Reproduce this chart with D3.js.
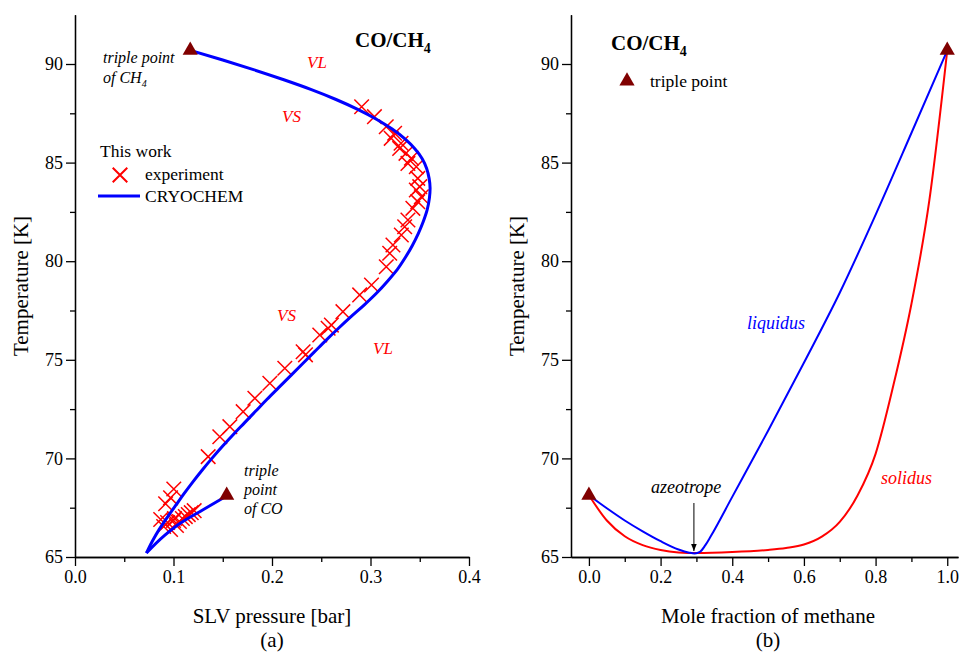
<!DOCTYPE html>
<html>
<head>
<meta charset="utf-8">
<script src="https://cdn.jsdelivr.net/npm/d3@7"></script>
<style>
  body { margin: 0; background: #fff; }
  svg { display: block; }
  text { font-family: "Liberation Serif", "Times New Roman", serif; }
</style>
</head>
<body>
<svg id="chart" width="959" height="652"></svg>
<script>
// ---- data ----
// (a) SLV pressure [bar] vs temperature [K], CRYOCHEM curve: upper branch from CH4 triple point down to the cusp
const cryoUpper = [
  [0.117, 90.69], [0.150, 90.20], [0.182, 89.70], [0.212, 89.20], [0.240, 88.70],
  [0.265, 88.20], [0.287, 87.70], [0.306, 87.20], [0.322, 86.70], [0.335, 86.20],
  [0.345, 85.70], [0.3525, 85.20], [0.357, 84.70], [0.3595, 84.20], [0.3605, 83.70],
  [0.3598, 83.20], [0.3575, 82.60], [0.3535, 82.00], [0.3485, 81.40], [0.3425, 80.80],
  [0.3355, 80.20], [0.3275, 79.60], [0.3175, 79.00], [0.3065, 78.40], [0.2940, 77.80],
  [0.2805, 77.20], [0.2675, 76.60], [0.2550, 76.00], [0.2430, 75.40], [0.2310, 74.80],
  [0.2190, 74.20], [0.2070, 73.60], [0.1950, 73.00], [0.1835, 72.40], [0.1720, 71.80],
  [0.1605, 71.20], [0.1495, 70.60], [0.1390, 70.00], [0.1290, 69.40], [0.1195, 68.80],
  [0.1105, 68.20], [0.1020, 67.60], [0.0935, 67.00], [0.0855, 66.40], [0.0785, 65.80],
  [0.0725, 65.20]
];
// lower branch from the cusp up to the CO triple point
const cryoLower = [
  [0.0725, 65.20], [0.091, 66.10], [0.108, 66.75], [0.130, 67.40], [0.154, 68.10]
];
const experiment = [
  [0.291, 87.83], [0.304, 87.33], [0.316, 86.82], [0.3245, 86.49], [0.321, 86.23],
  [0.331, 85.98], [0.3296, 85.72], [0.336, 85.47], [0.3415, 85.22], [0.338, 84.96],
  [0.3465, 84.79], [0.348, 84.20], [0.350, 83.78], [0.3465, 83.61], [0.3516, 83.27],
  [0.348, 83.02], [0.343, 82.68], [0.338, 82.09], [0.3347, 81.75], [0.3313, 81.33],
  [0.3228, 80.82], [0.3195, 80.40], [0.316, 79.72], [0.301, 78.79], [0.289, 78.29],
  [0.272, 77.44], [0.2603, 76.76], [0.257, 76.60], [0.2485, 76.26], [0.2316, 75.41],
  [0.234, 75.25], [0.213, 74.57], [0.1978, 73.81], [0.1826, 73.05], [0.1707, 72.37],
  [0.1572, 71.61], [0.147, 71.10], [0.1352, 70.09],
  [0.1003, 68.45], [0.097, 68.00], [0.092, 67.70], [0.087, 66.90], [0.090, 66.55],
  [0.094, 66.75], [0.097, 66.40], [0.100, 66.85], [0.103, 66.60], [0.106, 66.80],
  [0.109, 66.95], [0.112, 67.05], [0.115, 67.15], [0.118, 67.25], [0.121, 67.35],
  [0.101, 66.95]
];
const triplePointsA = [[0.117, 90.69], [0.154, 68.13]];

// (b) mole fraction of methane vs temperature [K]
const liquidus = [
  [0.000, 68.13], [0.050, 67.47], [0.100, 66.85], [0.150, 66.30], [0.200, 65.80],
  [0.250, 65.38], [0.280, 65.22], [0.295, 65.18], [0.310, 65.26], [0.325, 65.60],
  [0.340, 66.05], [0.400, 68.05], [0.500, 71.40], [0.600, 74.85], [0.700, 78.40],
  [0.800, 82.35], [0.900, 86.50], [1.000, 90.69]
];
const solidus = [
  [0.000, 68.13], [0.050, 66.85], [0.100, 66.05], [0.150, 65.60], [0.200, 65.35],
  [0.250, 65.23], [0.300, 65.20], [0.400, 65.25], [0.500, 65.36], [0.550, 65.46],
  [0.600, 65.63], [0.650, 66.03], [0.700, 66.78], [0.750, 68.13], [0.800, 70.23],
  [0.850, 73.73], [0.900, 77.83], [0.950, 83.08], [1.000, 90.69]
];
const triplePointsB = [[0.0, 68.13], [1.0, 90.69]];
const azeotrope = [0.293, 65.2];

const tempTicks = [65, 70, 75, 80, 85, 90];
const tempMinor = [67.5, 72.5, 77.5, 82.5, 87.5];
const pressTicks = [0, 0.1, 0.2, 0.3, 0.4];
const pressMinor = [0.05, 0.15, 0.25, 0.35];
const fracTicks = [0, 0.2, 0.4, 0.6, 0.8, 1.0];
const fracMinor = [0.1, 0.3, 0.5, 0.7, 0.9];

// ---- setup ----
const svg = d3.select("#chart");
const darkRed = "#800000";
const serif = '"Liberation Serif", "Times New Roman", serif';

const yT = d3.scaleLinear().domain([65, 92.5]).range([557, 14.7]);
const xP = d3.scaleLinear().domain([0, 0.4]).range([75, 469]);
const xF = d3.scaleLinear().domain([-0.05, 1.03]).range([571, 958]);

function drawAxes(x, y, major, minor, label, sub) {
    const g = svg.append("g");
    const y0 = y.range()[0];
    const x0 = x.range()[0];

    g.append("g").attr("transform", `translate(0,${y0})`)
        .call(d3.axisBottom(x).tickValues(major).tickSize(9).tickSizeOuter(0)
            .tickPadding(4).tickFormat(d3.format(".1f")));
    g.append("g").attr("transform", `translate(0,${y0})`)
        .call(d3.axisBottom(x).tickValues(minor).tickSize(5).tickSizeOuter(0).tickFormat(""));

    g.append("g").attr("transform", `translate(${x0},0)`)
        .call(d3.axisLeft(y).tickValues(tempTicks).tickSize(9).tickSizeOuter(0).tickPadding(3));
    g.append("g").attr("transform", `translate(${x0},0)`)
        .call(d3.axisLeft(y).tickValues(tempMinor).tickSize(5).tickSizeOuter(0).tickFormat(""));

    g.selectAll(".domain, .tick line").attr("stroke", "#000").attr("stroke-width", 1.3);
    g.selectAll("g").attr("font-family", null).attr("font-size", null);
    g.selectAll(".tick text").style("font-family", serif).style("font-size", "18px")
        .attr("fill", "#000");

    g.append("text").attr("x", label.cx).attr("y", 623).attr("text-anchor", "middle")
        .attr("font-size", 21).text(label.text);
    g.append("text").attr("x", label.cx).attr("y", 647).attr("text-anchor", "middle")
        .attr("font-size", 21).text(sub);
    g.append("text").attr("transform", `translate(${x0 - 47},286) rotate(-90)`)
        .attr("text-anchor", "middle").attr("font-size", 21).text("Temperature [K]");
}

drawAxes(xP, yT, pressTicks, pressMinor, { text: "SLV pressure [bar]", cx: 272 }, "(a)");
drawAxes(xF, yT, fracTicks, fracMinor, { text: "Mole fraction of methane", cx: 768 }, "(b)");

function title(x, y) {
    const t = svg.append("text").attr("x", x).attr("y", y)
        .attr("font-size", 21).attr("font-weight", "bold");
    t.append("tspan").text("CO/CH");
    t.append("tspan").attr("font-size", 14).attr("dy", 6).text("4");
}

const tri = d3.symbol(d3.symbolTriangle, 100);
const times = d3.symbol(d3.symbolTimes, 140);

// ---- panel (a) ----
const lineA = d3.line().x(d => xP(d[0])).y(d => yT(d[1])).curve(d3.curveMonotoneY);

svg.append("g").selectAll("path.exp").data(experiment).join("path")
    .attr("class", "exp")
    .attr("transform", d => `translate(${xP(d[0])},${yT(d[1])})`)
    .attr("d", times).attr("fill", "none").attr("stroke", "#ff0000").attr("stroke-width", 1.5);

[cryoUpper, cryoLower].forEach(b => {
    svg.append("path").datum(b).attr("d", lineA)
        .attr("fill", "none").attr("stroke", "#0000ff").attr("stroke-width", 3)
        .attr("stroke-linejoin", "round");
});

svg.append("g").selectAll("path").data(triplePointsA).join("path")
    .attr("transform", d => `translate(${xP(d[0])},${yT(d[1])})`)
    .attr("d", tri).attr("fill", darkRed);

title(355, 47);

// legend (a)
svg.append("text").attr("x", 100).attr("y", 157).attr("font-size", 17.5).text("This work");
svg.append("path").attr("transform", "translate(120,175)").attr("d", times)
    .attr("fill", "none").attr("stroke", "#ff0000").attr("stroke-width", 2);
svg.append("text").attr("x", 145).attr("y", 180).attr("font-size", 17.5).text("experiment");
svg.append("line").attr("x1", 98).attr("x2", 140).attr("y1", 196).attr("y2", 196)
    .attr("stroke", "#0000ff").attr("stroke-width", 3);
svg.append("text").attr("x", 145).attr("y", 202).attr("font-size", 17.5).text("CRYOCHEM");

// annotations (a)
const ital = (x, y, s, c, fs) => svg.append("text").attr("x", x).attr("y", y)
    .attr("font-size", fs || 16).attr("font-style", "italic").attr("fill", c || "#000").text(s);
ital(103, 63, "triple point");
const ofch = ital(103, 83, "of CH");
ofch.append("tspan").attr("font-size", 10).attr("dy", 4).text("4");
ital(307, 68, "VL", "#ff0000", 17);
ital(282, 122, "VS", "#ff0000", 17);
ital(277, 321, "VS", "#ff0000", 17);
ital(373, 354, "VL", "#ff0000", 17);
ital(244, 476, "triple");
ital(244, 495, "point");
ital(244, 514, "of CO");

// ---- panel (b) ----
const lineB = d3.line().x(d => xF(d[0])).y(d => yT(d[1])).curve(d3.curveMonotoneX);
svg.append("path").datum(solidus).attr("d", lineB)
    .attr("fill", "none").attr("stroke", "#ff0000").attr("stroke-width", 2);
svg.append("path").datum(liquidus).attr("d", lineB)
    .attr("fill", "none").attr("stroke", "#0000ff").attr("stroke-width", 2);

svg.append("g").selectAll("path").data(triplePointsB).join("path")
    .attr("transform", d => `translate(${xF(d[0])},${yT(d[1])})`)
    .attr("d", tri).attr("fill", darkRed);

title(611, 50);
svg.append("path").attr("transform", "translate(627,81)").attr("d", tri).attr("fill", darkRed);
svg.append("text").attr("x", 650).attr("y", 87).attr("font-size", 17.5).text("triple point");

ital(747, 329, "liquidus", "#0000ff", 18);
ital(881, 484, "solidus", "#ff0000", 18);
ital(651, 493, "azeotrope", "#000", 18);

// azeotrope arrow
const ax = xF(azeotrope[0]);
svg.append("defs").append("marker").attr("id", "arr")
    .attr("viewBox", "0 0 10 10").attr("refX", 10).attr("refY", 5)
    .attr("markerWidth", 7).attr("markerHeight", 9).attr("orient", "auto")
    .append("path").attr("d", "M0,1 L10,5 L0,9 Z").attr("fill", "#000");
svg.append("line").attr("x1", ax).attr("x2", ax).attr("y1", 503).attr("y2", yT(azeotrope[1]) - 2)
    .attr("stroke", "#000").attr("stroke-width", 1).attr("marker-end", "url(#arr)");
</script>
</body>
</html>
